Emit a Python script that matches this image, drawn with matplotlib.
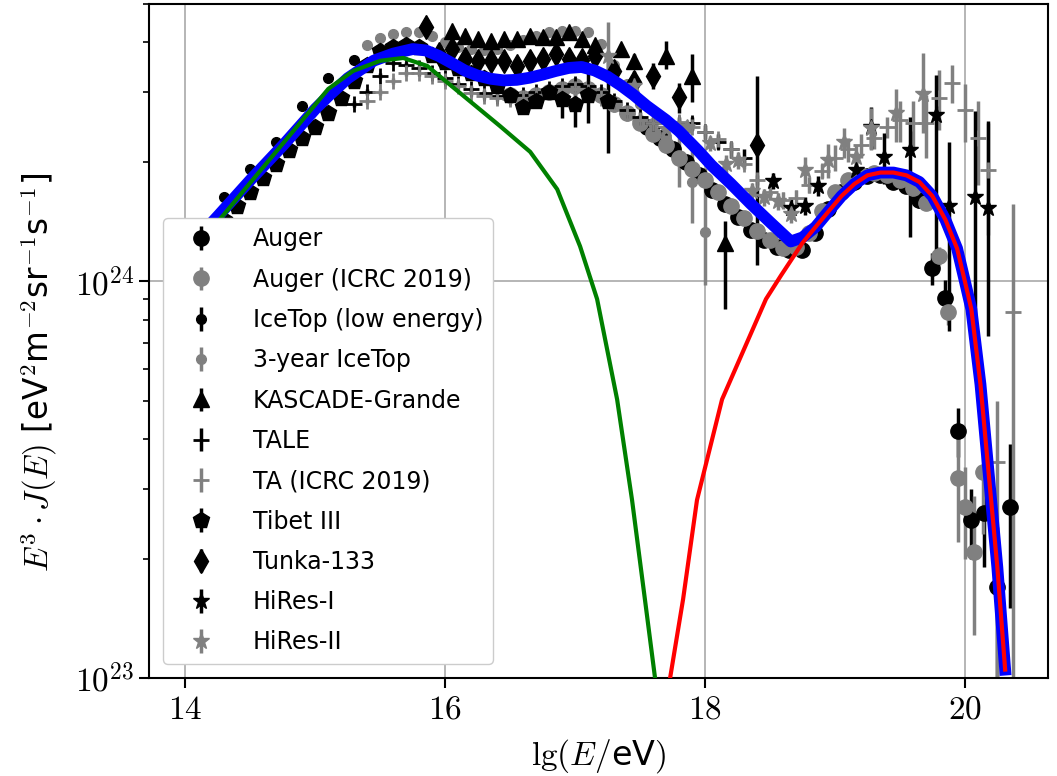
import numpy as np
import matplotlib
matplotlib.use("Agg")
import matplotlib.pyplot as plt
from matplotlib.ticker import FuncFormatter, NullFormatter, LogLocator, FixedLocator

plt.rcParams['font.family'] = ['DejaVu Sans']
plt.rcParams['mathtext.fontset'] = 'cm'

# E^3 J(E) in units of 1e24 eV^2 m^-2 sr^-1 s^-1, energies as lg(E/eV)

# Auger
auger_lg = [17.55, 17.65, 17.75, 17.85, 17.95, 18.05, 18.15, 18.25, 18.35, 18.45,
            18.55, 18.65, 18.75, 18.85, 18.95, 19.05, 19.15, 19.25, 19.35, 19.45,
            19.55, 19.65, 19.75, 19.85, 19.95, 20.05, 20.15, 20.25, 20.35]
auger_val = [2.45, 2.3, 2.15, 2.0, 1.85, 1.7, 1.57, 1.45, 1.35, 1.27,
             1.22, 1.2, 1.2, 1.32, 1.52, 1.68, 1.78, 1.84, 1.85, 1.78,
             1.74, 1.6, 1.08, 0.91, 0.42, 0.25, 0.26, 0.17, 0.27]
auger_err = [0.03] * 20 + [0.05, 0.07, 0.1, 0.1, 0.06, 0.05, 0.07, 0.07, 0.12]

# Auger (ICRC 2019)
auger19_lg = [16.5, 16.6, 16.7, 16.8, 16.9, 17.0, 17.1, 17.2, 17.3, 17.4,
              17.5, 17.6, 17.7, 17.8, 17.9, 18.0, 18.1, 18.2, 18.3, 18.4,
              18.5, 18.6, 18.7, 18.8, 18.9, 19.0, 19.1, 19.2, 19.3, 19.4,
              19.5, 19.6, 19.7, 19.8, 19.87, 19.95, 20.0, 20.07, 20.14]
auger19_val = [2.95, 2.9, 2.95, 3.0, 3.05, 3.1, 3.05, 2.95, 2.8, 2.65,
               2.5, 2.35, 2.2, 2.05, 1.92, 1.8, 1.68, 1.55, 1.44, 1.34,
               1.27, 1.21, 1.22, 1.32, 1.5, 1.68, 1.8, 1.85, 1.87, 1.85,
               1.8, 1.72, 1.58, 1.16, 0.835, 0.32, 0.27, 0.208, 0.33]
auger19_err = [0.03] * 32 + [0.05, 0.06, 0.06, 0.1, 0.07, 0.08, 0.1]

# IceTop (low energy)
icetop_low_lg = [14.1, 14.3, 14.5, 14.7, 14.9, 15.1, 15.3]
icetop_low_val = [1.36, 1.63, 1.92, 2.24, 2.77, 3.26, 3.61]
icetop_low_err = [0.04] * 7

# 3-year IceTop
icetop_lg = [15.4, 15.5, 15.6, 15.7, 15.8, 15.9, 16.0, 16.1, 16.2, 16.3,
             16.4, 16.5, 16.6, 16.7, 16.8, 16.9, 17.0, 17.1, 17.2, 17.3,
             17.4, 17.5, 17.6, 17.7, 17.8, 17.9, 18.0]
icetop_val = [3.95, 4.1, 4.2, 4.25, 4.25, 4.15, 4.0, 3.9, 3.85, 3.82,
              3.85, 3.95, 4.05, 4.15, 4.25, 4.27, 4.27, 4.25, 3.97, 3.5,
              3.15, 2.8, 2.5, 2.3, 2.03, 1.78, 1.33]
icetop_lo = [0.05] * 21 + [0.1, 0.15, 0.2, 0.3, 0.38, 0.35]
icetop_hi = [0.05] * 21 + [0.1, 0.15, 0.2, 0.35, 0.4, 0.6]

# KASCADE-Grande
kg_lg = [16.05, 16.15, 16.25, 16.35, 16.45, 16.55, 16.65, 16.75, 16.85, 16.95,
         17.05, 17.15, 17.35, 17.45, 17.7, 17.9, 18.15]
kg_val = [4.27, 4.15, 4.08, 4.03, 4.08, 4.08, 4.15, 4.13, 4.13, 4.26,
          4.08, 3.95, 3.85, 3.59, 3.7, 3.29, 1.25]
kg_lo = [0.05] * 12 + [0.1, 0.15, 0.27, 0.46, 0.4]
kg_hi = [0.05] * 12 + [0.1, 0.15, 0.33, 0.45, 0.17]

# TALE
tale_lg = [15.3, 15.4, 15.5, 15.6, 15.7, 15.8, 15.9, 16.0, 16.1, 16.2,
           16.3, 16.4, 16.5, 16.6, 16.7, 16.8, 16.9, 17.0, 17.1, 17.2,
           17.3, 17.4, 17.5, 17.6, 17.7, 17.8, 17.9, 18.0, 18.1, 18.2, 18.3]
tale_val = [2.8, 3.0, 3.3, 3.55, 3.52, 3.45, 3.35, 3.25, 3.15, 3.05,
            2.98, 2.93, 2.92, 2.95, 3.0, 3.05, 3.1, 3.15, 3.1, 3.0,
            2.85, 2.7, 2.6, 2.5, 2.45, 2.5, 2.5, 2.38, 2.25, 2.15, 2.05]
tale_err = [0.05] * 20 + [0.07] * 5 + [0.1] * 6

# TA (ICRC 2019)
ta_lg = [15.4, 15.5, 15.6, 15.7, 15.8, 15.9, 16.0, 16.1, 16.2, 16.3,
         16.4, 16.5, 16.6, 16.7, 16.8, 16.9, 17.0, 17.1, 17.2, 17.3,
         17.4, 17.5, 17.6, 17.7, 17.8, 17.9, 18.0, 18.1, 18.2, 18.3,
         18.4, 18.5, 18.6, 18.7, 18.8, 18.9, 19.0, 19.1, 19.2, 19.3,
         19.4, 19.5, 19.6, 19.7, 19.8, 19.9, 20.0, 20.1, 20.18, 20.25, 20.37]
ta_val = [2.85, 3.0, 3.2, 3.35, 3.35, 3.3, 3.2, 3.1, 2.98, 2.93,
          2.9, 2.88, 2.9, 2.95, 3.0, 3.05, 3.05, 3.0, 2.9, 2.8,
          2.65, 2.55, 2.5, 2.5, 2.52, 2.45, 2.38, 2.28, 2.15, 1.97,
          1.8, 1.68, 1.6, 1.62, 1.75, 1.9, 2.05, 2.15, 2.2, 2.3,
          2.45, 2.55, 2.5, 2.5, 2.9, 3.16, 2.7, 2.3, 1.91, 0.35, 0.835]
ta_lo = [0.05] * 31 + [0.08] * 5 + [0.15] * 5 + [0.3, 0.35, 0.45, 0.5, 0.35, 0.45, 0.55, 0.6, 0.35, 0.835]
ta_hi = [0.05] * 31 + [0.08] * 5 + [0.15] * 5 + [0.3, 0.35, 0.45, 0.5, 0.35, 0.45, 0.55, 0.6, 0.15, 0.73]

# Tibet III
tibet_lg = [14.0, 14.1, 14.2, 14.3, 14.4, 14.5, 14.6, 14.7, 14.8, 14.9,
            15.0, 15.1, 15.2, 15.3, 15.4, 15.5, 15.6, 15.7, 15.8, 15.9,
            16.0, 16.1, 16.2, 16.3, 16.4, 16.5, 16.6, 16.7, 16.8, 16.9,
            17.0, 17.1, 17.25]
tibet_val = [1.14, 1.22, 1.33, 1.43, 1.55, 1.68, 1.82, 1.98, 2.14, 2.3,
             2.45, 2.65, 2.9, 3.2, 3.5, 3.8, 3.9, 3.95, 3.9, 3.72,
             3.58, 3.45, 3.35, 3.25, 3.1, 2.95, 2.75, 2.85, 3.0, 2.88,
             2.8, 2.95, 2.85]
tibet_err = [0.03] * 26 + [0.08, 0.1, 0.12, 0.3, 0.35, 0.45, 0.75]

# Tunka-133
tunka_lg = [15.85, 15.95, 16.05, 16.15, 16.25, 16.35, 16.45, 16.55, 16.65, 16.75,
            16.85, 16.95, 17.05, 17.15, 17.3, 17.45, 17.6, 17.8, 18.4]
tunka_val = [4.38, 3.75, 3.85, 3.64, 3.6, 3.59, 3.59, 3.49, 3.59, 3.64,
             3.74, 3.64, 3.62, 3.7, 3.39, 3.18, 3.3, 2.91, 2.2]
tunka_err = [0.05] * 14 + [0.15, 0.2, 0.25, 0.25, 1.1]

# HiRes-I
hires1_lg = [18.52, 18.66, 18.77, 18.87, 19.16, 19.28, 19.38, 19.58, 19.78, 19.88, 20.08, 20.18]
hires1_val = [1.79, 1.53, 1.55, 1.74, 1.91, 2.45, 2.06, 2.14, 2.62, 1.55, 1.63, 1.53]
hires1_lo = [0.08, 0.08, 0.08, 0.1, 0.15, 0.3, 0.3, 0.85, 1.5, 0.8, 0.92, 0.8]
hires1_hi = [0.08, 0.08, 0.08, 0.1, 0.15, 0.3, 0.3, 0.45, 0.7, 0.7, 1.05, 1.0]

# HiRes-II
hires2_lg = [17.25, 17.45, 17.7, 17.86, 18.04, 18.16, 18.25, 18.36, 18.45, 18.56,
             18.66, 18.77, 18.95, 19.07, 19.16, 19.28, 19.47, 19.68]
hires2_val = [3.7, 3.1, 2.42, 2.45, 2.23, 1.98, 2.02, 1.69, 1.63, 1.59,
              1.48, 1.91, 2.02, 2.24, 2.06, 2.44, 2.65, 2.97]
hires2_lo = [0.3, 0.2, 0.15, 0.1, 0.1, 0.1, 0.1, 0.08, 0.08, 0.08, 0.08, 0.15, 0.2, 0.2, 0.15, 0.3, 0.4, 0.6]
hires2_hi = [0.8, 0.2, 0.15, 0.1, 0.1, 0.1, 0.1, 0.08, 0.08, 0.08, 0.08, 0.15, 0.2, 0.2, 0.15, 0.3, 0.4, 0.8]

# model curves: total, galactic and extragalactic components
total_lg = [14.0, 14.25, 14.5, 14.75, 15.0, 15.1, 15.25, 15.45, 15.6, 15.75,
            15.85, 15.95, 16.05, 16.15, 16.25, 16.35, 16.45, 16.55, 16.65, 16.75,
            16.85, 16.95, 17.05, 17.15, 17.25, 17.35, 17.45, 17.55, 17.7, 17.8,
            17.95, 18.05, 18.2, 18.35, 18.5, 18.66, 18.75, 18.85, 18.95, 19.05,
            19.15, 19.25, 19.35, 19.45, 19.55, 19.65, 19.75, 19.85, 19.94, 20.0,
            20.05, 20.12, 20.19, 20.25, 20.31]
total_val = [1.19, 1.46, 1.80, 2.2, 2.72, 2.93, 3.25, 3.6, 3.75, 3.85,
             3.82, 3.7, 3.55, 3.4, 3.3, 3.24, 3.21, 3.22, 3.26, 3.32,
             3.39, 3.45, 3.47, 3.4, 3.28, 3.12, 2.95, 2.77, 2.55, 2.39,
             2.13, 1.96, 1.76, 1.57, 1.41, 1.26, 1.29, 1.37, 1.5, 1.64,
             1.76, 1.85, 1.88, 1.88, 1.85, 1.78, 1.64, 1.43, 1.21, 1.0,
             0.85, 0.55, 0.31, 0.19, 0.105]

galactic_lg = [14.0, 14.285, 15.1, 15.29, 15.5, 15.677, 15.862, 16.423, 16.654, 16.862,
               17.038, 17.169, 17.323, 17.438, 17.538, 17.615, 17.66]
galactic_val = [1.127, 1.459, 3.055, 3.39, 3.597, 3.656, 3.49, 2.46, 2.12, 1.706,
                1.225, 0.902, 0.504, 0.281, 0.157, 0.1, 0.08]

extragal_lg = [17.70, 17.731, 17.831, 17.938, 18.131, 18.469, 18.585, 18.75, 18.85, 18.95,
               19.05, 19.15, 19.25, 19.35, 19.45, 19.55, 19.65, 19.75, 19.85, 19.94,
               20.0, 20.05, 20.12, 20.19, 20.25, 20.31]
extragal_val = [0.09, 0.1, 0.158, 0.281, 0.504, 0.902, 1.035, 1.25, 1.37, 1.5,
                1.64, 1.76, 1.85, 1.88, 1.88, 1.85, 1.78, 1.64, 1.43, 1.21,
                1.0, 0.85, 0.55, 0.31, 0.19, 0.105]

unit = 1e24

fig, ax = plt.subplots(figsize=(10.57, 7.76), dpi=100)
fig.subplots_adjust(left=0.141, right=0.9915, bottom=0.1263, top=0.9948)


def draw(lg, val, lo, hi, fmt, color, label, ms=11, **kw):
    v = np.array(val) * unit
    err = [np.array(lo) * unit, np.array(hi) * unit]
    ax.errorbar(lg, v, yerr=err, fmt=fmt, color=color, ms=ms,
                elinewidth=2.5, capsize=0, label=label, **kw)


draw(auger_lg, auger_val, auger_err, auger_err, 'o', 'black', 'Auger', ms=11)
draw(auger19_lg, auger19_val, auger19_err, auger19_err, 'o', 'gray', 'Auger (ICRC 2019)', ms=11)
draw(icetop_low_lg, icetop_low_val, icetop_low_err, icetop_low_err, '.', 'black', 'IceTop (low energy)', ms=14)
draw(icetop_lg, icetop_val, icetop_lo, icetop_hi, '.', 'gray', '3-year IceTop', ms=14)
draw(kg_lg, kg_val, kg_lo, kg_hi, '^', 'black', 'KASCADE-Grande', ms=11)
draw(tale_lg, tale_val, tale_err, tale_err, '+', 'black', 'TALE', ms=12, mew=2)
draw(ta_lg, ta_val, ta_lo, ta_hi, '+', 'gray', 'TA (ICRC 2019)', ms=12, mew=2)
draw(tibet_lg, tibet_val, tibet_err, tibet_err, 'p', 'black', 'Tibet III', ms=12)
draw(tunka_lg, tunka_val, tunka_err, tunka_err, 'd', 'black', 'Tunka-133', ms=12)
draw(hires1_lg, hires1_val, hires1_lo, hires1_hi, '*', 'black', 'HiRes-I', ms=12)
draw(hires2_lg, hires2_val, hires2_lo, hires2_hi, '*', 'gray', 'HiRes-II', ms=12)

ax.plot(total_lg, np.array(total_val) * unit, color='blue', lw=8.5, zorder=5)
ax.plot(galactic_lg, np.array(galactic_val) * unit, color='green', lw=3, zorder=6)
ax.plot(extragal_lg, np.array(extragal_val) * unit, color='red', lw=3, zorder=7)

ax.set_yscale('log')
ax.set_xlim(13.72, 20.64)
ax.set_ylim(1e23, 5.0e24)

ax.xaxis.set_major_locator(FixedLocator([14, 16, 18, 20]))
ax.xaxis.set_major_formatter(FuncFormatter(lambda v, p: r'$%d$' % round(v)))
ax.yaxis.set_major_locator(LogLocator(base=10))
ax.yaxis.set_minor_locator(LogLocator(base=10, subs=np.arange(2, 10)))
ax.yaxis.set_major_formatter(FuncFormatter(lambda v, p: r'$10^{%d}$' % round(np.log10(v))))
ax.yaxis.set_minor_formatter(NullFormatter())

ax.tick_params(which='major', length=7, width=1.5, labelsize=24)
ax.tick_params(which='minor', length=4, width=1.2)
for s in ax.spines.values():
    s.set_linewidth(1.5)

ax.grid(True, which='major', color='#b0b0b0', lw=1.3)
ax.set_axisbelow(True)

ax.set_xlabel(r'$\mathrm{lg}(E/$eV$)$', fontsize=24, labelpad=8)
ax.set_ylabel(r'$E^3 \cdot J(E)$ [eV$^2$m$^{-2}$sr$^{-1}$s$^{-1}$]', fontsize=23.5)
ax.yaxis.set_label_coords(-0.10, 0.454)

leg = ax.legend(loc='lower left', fontsize=17, labelspacing=0.69, borderaxespad=0.6,
                handlelength=2.4, handletextpad=1.0, framealpha=1.0)
leg.set_zorder(10)

fig.savefig('out.png', dpi=100)
